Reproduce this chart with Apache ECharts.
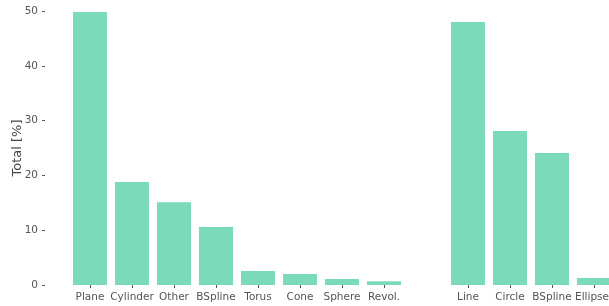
<!DOCTYPE html>
<html>
<head>
<meta charset="utf-8">
<script src="https://cdn.jsdelivr.net/npm/echarts@6/dist/echarts.min.js"></script>
<style>
  html, body { margin: 0; padding: 0; background: #fff; }
  #chart { width: 609px; height: 306px; }
</style>
</head>
<body>
<div id="chart"></div>
<script>
// surface types, then an empty slot, then curve types
var categories = ['Plane', 'Cylinder', 'Other', 'BSpline', 'Torus', 'Cone', 'Sphere', 'Revol.', '', 'Line', 'Circle', 'BSpline', 'Ellipse']
var totals = [49.8, 18.8, 15.1, 10.6, 2.55, 2.0, 1.1, 0.7, null, 48.0, 28.1, 24.1, 1.3]
var yTicks = [0, 10, 20, 30, 40, 50]

var myChart = echarts.init(document.getElementById('chart'))

// last label sits on the page edge, nudge it left so it is not cut
var xData = categories.map(function(name, i) {
  if (i === categories.length - 1) {
    return { value: name, textStyle: { padding: [0, 4, 0, 0] } }
  }
  return name
})

var option = {
  animation: false,
  textStyle: { fontFamily: 'DejaVu Sans' },
  grid: {
    left: 69,
    top: 11,
    bottom: 21,
    width: 546,
    containLabel: false,
    outerBoundsMode: 'none'
  },
  xAxis: {
    type: 'category',
    data: xData,
    offset: 1,
    axisLine: { show: false },
    axisTick: {
      show: true,
      alignWithLabel: true,
      length: 3,
      lineStyle: { color: '#555' },
      interval: function(index, value) {
        return value !== ''
      }
    },
    axisLabel: {
      interval: 0,
      margin: 6,
      color: '#555',
      fontSize: 10.5
    }
  },
  yAxis: {
    type: 'value',
    min: yTicks[0],
    max: yTicks[yTicks.length - 1],
    interval: 10,
    offset: 24,
    name: 'Total [%]',
    nameLocation: 'middle',
    nameGap: 21,
    nameMoveOverlap: false,
    nameTextStyle: { color: '#444', fontSize: 13 },
    axisLine: { show: false },
    axisTick: { show: true, length: 3, lineStyle: { color: '#555' } },
    axisLabel: { margin: 7, color: '#555', fontSize: 10.5 },
    splitLine: { show: false }
  },
  series: [
    {
      type: 'bar',
      data: totals,
      barCategoryGap: '19%',
      itemStyle: { color: '#7bdab9' }
    }
  ]
}
myChart.setOption(option)
</script>
</body>
</html>
